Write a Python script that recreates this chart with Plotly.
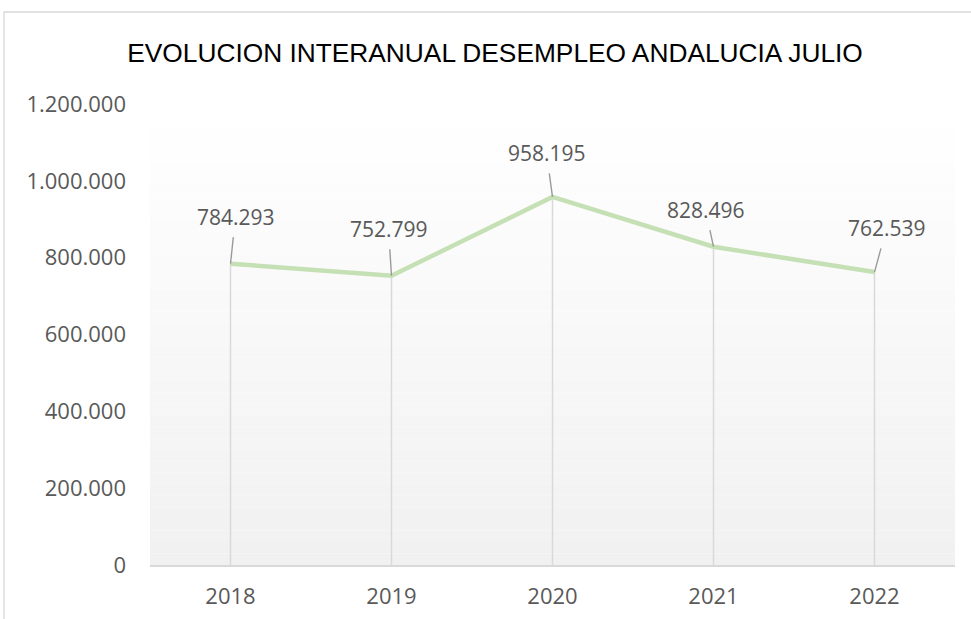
import plotly.graph_objects as go

# ---- data ----
years = ["2018", "2019", "2020", "2021", "2022"]
parados = [784293, 752799, 958195, 828496, 762539]
y_ticks = [0, 200000, 400000, 600000, 800000, 1000000, 1200000]
title_text = "EVOLUCION INTERANUAL DESEMPLEO ANDALUCIA JULIO"

# label offsets (pixels) for the data labels, style only
label_dx = [5, -3, -6, -8, 12]
label_dy = [-47, -47, -44, -37, -44]

W, H = 971, 619
L, R, T, B = 150, 16, 104, 54

def fmt(v):
    return f"{v:,}".replace(",", ".")

fig = go.Figure()

# drop lines from each point to the axis
dx, dy = [], []
for c, v in zip(years, parados):
    dx += [c, c, None]
    dy += [0, v, None]
fig.add_trace(go.Scatter(x=dx, y=dy, mode="lines",
                         line=dict(color="#d9d9d9", width=1.5),
                         hoverinfo="skip", showlegend=False))

# main line
fig.add_trace(go.Scatter(x=years, y=parados, mode="lines",
                         line=dict(color="#c5e0b4", width=4.5),
                         showlegend=False))

# data labels with leader lines
annotations = []
for i, (c, v, ox, oy) in enumerate(zip(years, parados, label_dx, label_dy)):
    annotations.append(dict(x=i, y=v, xref="x", yref="y", text=fmt(v),
                            showarrow=True, arrowhead=0, arrowwidth=1.4,
                            arrowcolor="#9a9a9a", ax=ox, ay=oy,
                            axref="pixel", ayref="pixel",
                            standoff=0, startstandoff=5,
                            font=dict(family="Open Sans", size=21, color="#595959")))

# gradient plot background
n = 40
shapes = []
for i in range(n):
    t = i / (n - 1)
    g = round(255 - (255 - 241) * t)
    col = f"rgb({g},{g},{g})"
    shapes.append(dict(type="rect", xref="paper", yref="paper",
                       x0=0, x1=1, y0=1 - (i + 1) / n, y1=1 - i / n,
                       fillcolor=col, line=dict(width=0), layer="below"))

# chart border (top and left visible)
px = lambda p: (p - L) / (W - L - R)
py = lambda p: 1 - (p - T) / (H - T - B)
shapes.append(dict(type="rect", xref="paper", yref="paper",
                   x0=px(4), x1=px(W + 20), y0=py(H + 20), y1=py(12),
                   line=dict(color="#d9d9d9", width=1.3),
                   fillcolor="rgba(0,0,0,0)", layer="above"))

fig.update_layout(
    width=W, height=H,
    margin=dict(l=L, r=R, t=T, b=B, autoexpand=False),
    paper_bgcolor="white",
    plot_bgcolor="rgba(0,0,0,0)",
    separators=",.",
    shapes=shapes,
    annotations=annotations,
    title=dict(text=title_text, xref="container", x=495 / W, xanchor="center",
               yref="container", y=1 - 53 / H, yanchor="middle",
               font=dict(family="Liberation Sans, Arial, sans-serif",
                         size=26.3, color="#000000")),
    xaxis=dict(type="category", range=[-0.5, 4.5], showgrid=False,
               showline=True, linecolor="#d9d9d9", linewidth=1.5,
               ticks="", ticklabelstandoff=11, automargin=False,
               tickfont=dict(family="Open Sans", size=22, color="#595959"),
               fixedrange=True),
    yaxis=dict(range=[0, 1200000], tickvals=y_ticks, tickformat=",d",
               showgrid=False, zeroline=False, showline=False, ticks="",
               ticklabelstandoff=23, automargin=False,
               tickfont=dict(family="Open Sans", size=22, color="#595959"),
               fixedrange=True),
)

fig.write_html("out.html", config={"displayModeBar": False},
               post_script="document.body.style.margin='0';document.body.style.overflow='hidden';")
